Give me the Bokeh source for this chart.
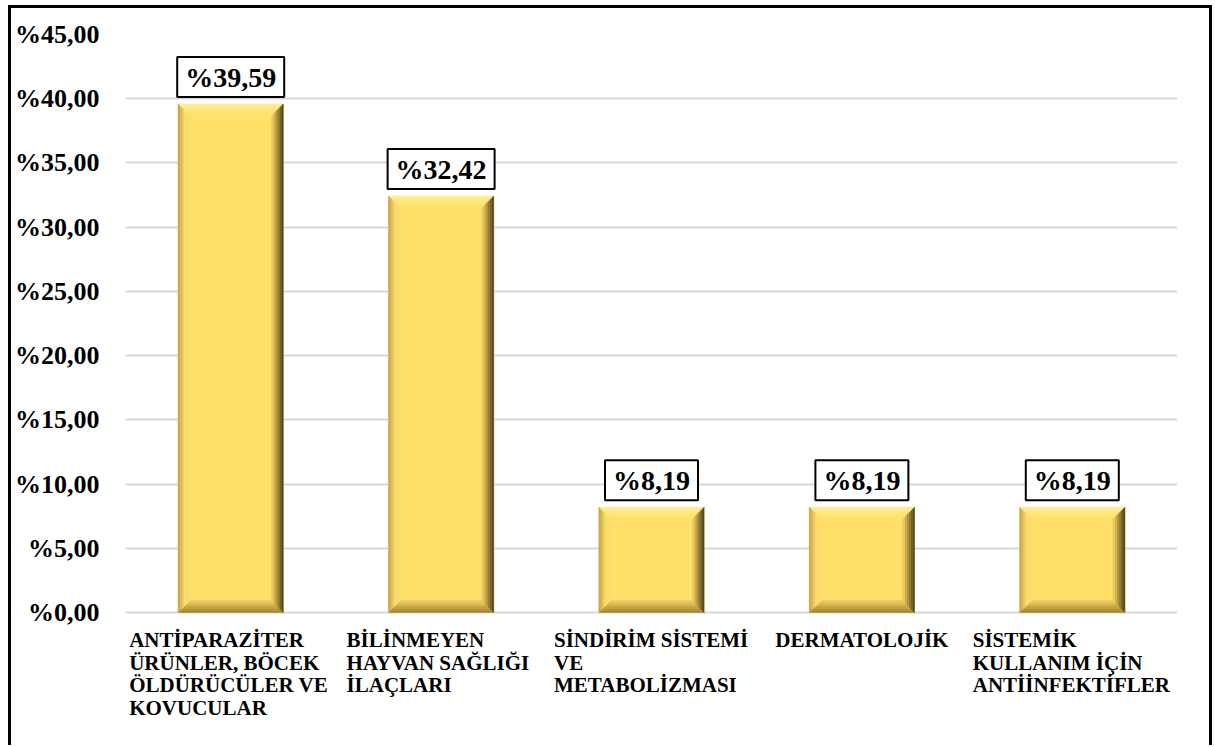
from bokeh.plotting import figure
from bokeh.models import Range1d, FixedTicker, ColumnDataSource
from bokeh.core.properties import value
from bokeh.embed import file_html
from bokeh.resources import INLINE

categories = [
    "ANTİPARAZİTER\nÜRÜNLER, BÖCEK\nÖLDÜRÜCÜLER VE\nKOVUCULAR",
    "BİLİNMEYEN\nHAYVAN SAĞLIĞI\nİLAÇLARI",
    "SİNDİRİM SİSTEMİ\nVE\nMETABOLİZMASI",
    "DERMATOLOJİK",
    "SİSTEMİK\nKULLANIM İÇİN\nANTİİNFEKTİFLER",
]
values = [39.59, 32.42, 8.19, 8.19, 8.19]
value_labels = ["%39,59", "%32,42", "%8,19", "%8,19", "%8,19"]
y_ticks = [0, 5, 10, 15, 20, 25, 30, 35, 40, 45]
y_tick_labels = ["%0,00", "%5,00", "%10,00", "%15,00", "%20,00", "%25,00",
                 "%30,00", "%35,00", "%40,00", "%45,00"]

# layout (pixels)
W, H = 1204, 740
ML, MR, MT = 109, 38, 26
FW = W - ML - MR
ZERO_PX = 578          # distance from frame top to value 0
YMAX = 45
FH = H - MT
YMIN = -(FH - ZERO_PX) * YMAX / ZERO_PX
n = len(values)
px_x = n / FW          # category units per pixel
px_y = YMAX / ZERO_PX  # value units per pixel
label_left_px = [-102, -95, -98, -87, -100]
LINE_PX = 22.7

SERIF = value("Liberation Serif")

p = figure(width=W, height=H, output_backend="svg", toolbar_location=None,
           x_range=Range1d(-0.5, n - 0.5), y_range=Range1d(YMIN, YMAX),
           min_border_left=ML, min_border_right=MR, min_border_top=MT,
           min_border_bottom=0)
p.styles = {"border-left": "3px solid black", "border-top": "3px solid black",
            "border-right": "3px solid black", "box-sizing": "border-box",
            "margin-left": "8px", "margin-top": "5px"}
p.outline_line_color = None
p.xaxis.visible = False
p.xgrid.visible = False
p.ygrid.grid_line_color = "#D9D9D9"
p.ygrid.grid_line_width = 2
p.yaxis.ticker = FixedTicker(ticks=y_ticks)
p.yaxis.major_label_overrides = {t: l for t, l in zip(y_ticks, y_tick_labels)}
p.yaxis.axis_line_color = None
p.yaxis.major_tick_line_color = None
p.yaxis.minor_tick_line_color = None
p.yaxis.major_label_text_font = "Liberation Serif"
p.yaxis.major_label_text_font_style = "bold"
p.yaxis.major_label_text_font_size = "26px"
p.yaxis.major_label_text_color = "black"
p.yaxis.major_label_standoff = 20

# bars with bevel
bw = 0.5
bev = 12
bx, by = bev * px_x, bev * px_y
face = (255, 225, 105)

def mix(c1, c2, t):
    return "#%02x%02x%02x" % tuple(int(round(a + (b - a) * t)) for a, b in zip(c1, c2))

xs, ys, cols = [], [], []
steps = 6
for i, v in enumerate(values):
    x0, x1 = i - bw / 2, i + bw / 2
    xs.append([x0, x1, x1, x0]); ys.append([0, 0, v, v]); cols.append(mix(face, face, 0))
    for k in range(steps):
        a, b = k / steps, (k + 1) / steps
        # top (light)
        xs.append([x0 + bx * a, x1 - bx * a, x1 - bx * b, x0 + bx * b])
        ys.append([v - by * a, v - by * a, v - by * b, v - by * b])
        cols.append(mix((255, 240, 160), face, b))
        # bottom (darker)
        xs.append([x0 + bx * a, x1 - bx * a, x1 - bx * b, x0 + bx * b])
        ys.append([by * a, by * a, by * b, by * b])
        cols.append(mix((150, 120, 45), (235, 200, 90), b))
        # left
        xs.append([x0 + bx * a, x0 + bx * a, x0 + bx * b, x0 + bx * b])
        ys.append([by * a, v - by * a, v - by * b, by * b])
        cols.append(mix((185, 150, 60), (250, 220, 110), min(1, b * 1.5)))
        # right (dark)
        xs.append([x1 - bx * a, x1 - bx * a, x1 - bx * b, x1 - bx * b])
        ys.append([by * a, v - by * a, v - by * b, by * b])
        cols.append(mix((55, 45, 20), (235, 200, 90), b))

p.patches(xs=xs, ys=ys, fill_color=cols, line_color=cols, line_width=0.5)

# value labels
src = ColumnDataSource(dict(x=list(range(n)), y=values, t=value_labels))
p.text(x="x", y="y", text="t", source=src, text_align="center",
       text_baseline="bottom", text_font=SERIF, text_font_style="bold",
       text_font_size="28px", text_color="black", y_offset=-7,
       background_fill_color="white", border_line_color="black",
       border_line_width=2, padding=dict(left=8, right=8, top=5, bottom=4))

# category labels, one text item per line
lx, ly, lt, lo = [], [], [], []
for i, (cat, off) in enumerate(zip(categories, label_left_px)):
    for k, line in enumerate(cat.split("\n")):
        lx.append(i + off * px_x)
        ly.append(0)
        lt.append(line)
        lo.append(15.5 + k * LINE_PX)
csrc = ColumnDataSource(dict(x=lx, y=ly, t=lt, yo=lo))
p.text(x="x", y="y", text="t", source=csrc, text_align="left",
       text_baseline="top", text_font=SERIF, text_font_style="bold",
       text_font_size="21px", text_color="black", y_offset="yo")

open("out.html", "w").write(file_html(p, INLINE))
